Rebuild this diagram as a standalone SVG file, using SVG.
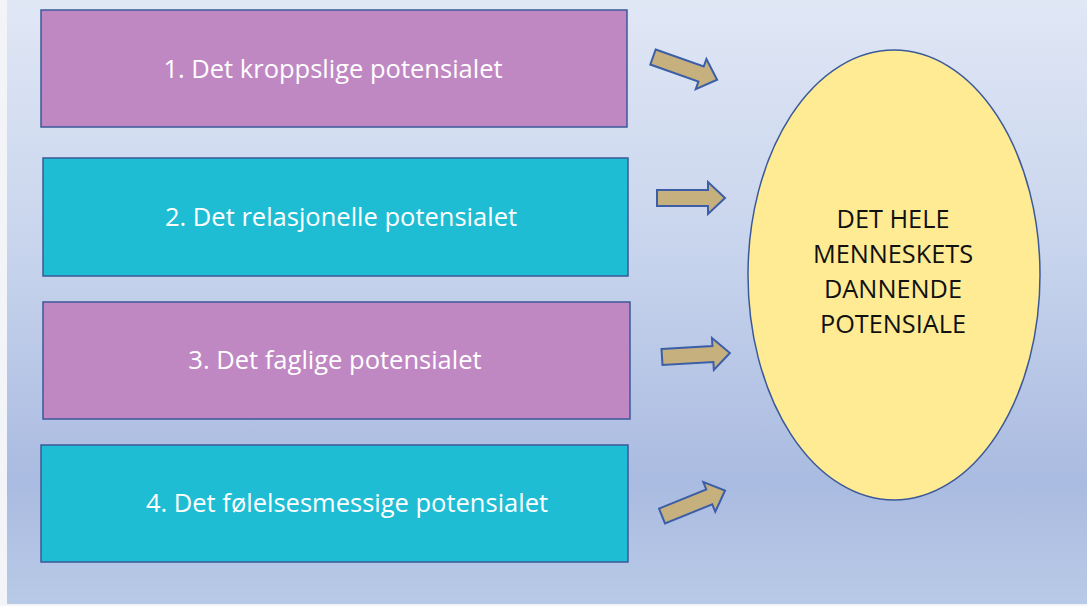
<svg xmlns="http://www.w3.org/2000/svg" width="1087" height="606" viewBox="0 0 1087 606">
  <defs>
    <linearGradient id="bg" x1="0" y1="0" x2="0" y2="1">
      <stop offset="0" stop-color="#e0e7f5"/>
      <stop offset="0.4" stop-color="#c9d5ed"/>
      <stop offset="0.8" stop-color="#aabbe1"/>
      <stop offset="1" stop-color="#b9cae7"/>
    </linearGradient>
    <!-- block arrow pointing right, tail centre at origin -->
    <path id="arrow" d="M0,-8 L51,-8 L51,-16 L68,0 L51,16 L51,8 L0,8 Z"/>
    <style>
      .box { stroke: #3b5998; stroke-width: 1.5; }
      .violet { fill: #c088c3; }
      .cyan { fill: #1ebdd4; }
      .lbl { font-family: "Open Sans", "Liberation Sans", sans-serif; font-size: 25.5px; fill: #ffffff; text-anchor: middle; }
      .core { font-family: "Open Sans", "Liberation Sans", sans-serif; font-size: 25.3px; fill: #111111; text-anchor: middle; }
      .arw { fill: #c6b07e; stroke: #3b5ea6; stroke-width: 2; stroke-linejoin: miter; }
    </style>
  </defs>

  <rect x="0" y="0" width="1087" height="606" fill="#f2f4f8"/>
  <rect x="7" y="0" width="1080" height="604" fill="url(#bg)"/>

  <g id="node-1">
    <rect class="box violet" x="41" y="10" width="586" height="117"/>
    <text class="lbl" x="333" y="78">1. Det kroppslige potensialet</text>
  </g>
  <g id="node-2">
    <rect class="box cyan" x="43" y="158" width="585" height="118"/>
    <text class="lbl" x="341" y="226">2. Det relasjonelle potensialet</text>
  </g>
  <g id="node-3">
    <rect class="box violet" x="43" y="302" width="587" height="117"/>
    <text class="lbl" x="335" y="369">3. Det faglige potensialet</text>
  </g>
  <g id="node-4">
    <rect class="box cyan" x="41" y="445" width="587" height="117"/>
    <text class="lbl" x="347" y="512">4. Det følelsesmessige potensialet</text>
  </g>

  <g id="node-whole">
    <ellipse cx="894" cy="275" rx="146" ry="225" fill="#feeb94" stroke="#3b5998" stroke-width="1.5"/>
    <text class="core" x="893" y="228">DET HELE</text>
    <text class="core" x="893" y="263">MENNESKETS</text>
    <text class="core" x="893" y="298">DANNENDE</text>
    <text class="core" x="893" y="333">POTENSIALE</text>
  </g>

  <g id="connectors">
    <use href="#arrow" class="arw" transform="translate(653,57) rotate(19.5)"/>
    <use href="#arrow" class="arw" transform="translate(657,198)"/>
    <use href="#arrow" class="arw" transform="translate(662,357) rotate(-3.4)"/>
    <use href="#arrow" class="arw" transform="translate(662,516) rotate(-22)"/>
  </g>
</svg>
